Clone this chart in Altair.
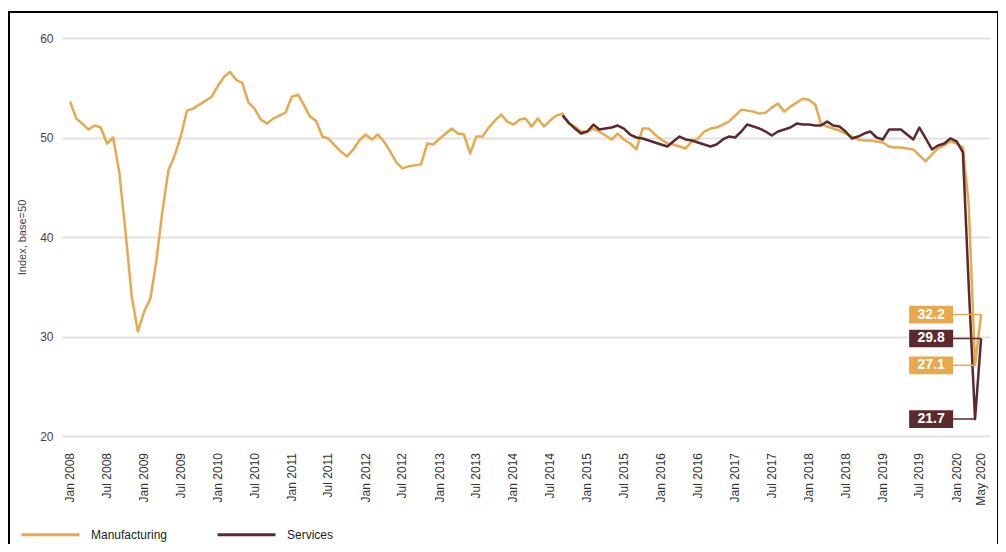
import altair as alt
import pandas as pd

# ---------------- data ----------------
months = pd.date_range("2008-01-01", "2020-05-01", freq="MS").strftime("%Y-%m-%d").tolist()

manufacturing = [
    53.6, 51.9, 51.4, 50.8, 51.2, 51.0, 49.4, 50.0, 46.4, 40.5,
    34.0, 30.5, 32.5, 33.8, 37.4, 42.5, 46.7, 48.2, 50.1, 52.7,
    52.9, 53.3, 53.7, 54.1, 55.2, 56.1, 56.6, 55.8, 55.5, 53.5,
    52.9, 51.8, 51.4, 51.9, 52.2, 52.5, 54.1, 54.3, 53.3, 52.1,
    51.7, 50.1, 49.9, 49.2, 48.6, 48.1, 48.8, 49.7, 50.3, 49.8,
    50.3, 49.6, 48.6, 47.5, 46.9, 47.1, 47.2, 47.3, 49.4, 49.3,
    49.9, 50.4, 50.9, 50.4, 50.3, 48.4, 50.1, 50.1, 51.0, 51.7,
    52.3, 51.6, 51.3, 51.8, 51.9, 51.1, 51.9, 51.1, 51.7, 52.2,
    52.4, 51.4, 51.1, 50.6, 50.6, 50.9, 50.6, 50.2, 49.8, 50.4,
    49.8, 49.4, 48.8, 50.9, 50.9, 50.3, 49.8, 49.4, 49.3, 49.1,
    48.9, 49.6, 49.9, 50.6, 50.9, 51.0, 51.3, 51.6, 52.2, 52.8,
    52.7, 52.6, 52.4, 52.5, 53.0, 53.4, 52.6, 53.1, 53.5, 53.9,
    53.8, 53.3, 51.4, 51.1, 50.9, 50.7, 50.4, 50.1, 49.8, 49.7,
    49.7, 49.6, 49.5, 49.1, 49.0, 49.0, 48.9, 48.8, 48.2, 47.6,
    48.3, 48.9, 49.2, 49.6, 49.4, 49.0, 43.2, 27.1, 32.2,
]

services_months = months[months.index("2014-09-01"):]
services = [
    52.2, 51.5, 50.9, 50.4, 50.6, 51.3, 50.8, 50.9, 51.0, 51.2,
    50.9, 50.3, 50.0, 49.9, 49.7, 49.5, 49.3, 49.1, 49.6, 50.1,
    49.8, 49.7, 49.5, 49.3, 49.1, 49.3, 49.8, 50.1, 50.0, 50.6,
    51.3, 51.1, 50.9, 50.6, 50.2, 50.6, 50.8, 51.0, 51.4, 51.3,
    51.3, 51.2, 51.2, 51.6, 51.2, 51.1, 50.6, 49.9, 50.1, 50.4,
    50.6, 50.0, 49.8, 50.8, 50.8, 50.8, 50.3, 49.8, 51.0, 49.9,
    48.8, 49.2, 49.4, 49.9, 49.6, 48.5, 35.0, 21.7, 29.8,
]

series_names = ["Manufacturing", "Services"]
series_colors = ["#E8A94E", "#5A2A2E"]

tick_dates = [f"{y}-{m:02d}-01" for y in range(2008, 2020) for m in (1, 7)] + ["2020-01-01", "2020-05-01"]
tick_labels = [f"{mn} {y}" for y in range(2008, 2020) for mn in ("Jan", "Jul")] + ["Jan 2020", "May 2020"]

label_values = [32.2, 29.8, 27.1, 21.7]
label_series = ["Manufacturing", "Services", "Manufacturing", "Services"]
label_targets = ["2020-05-01", "2020-05-01", "2020-04-01", "2020-04-01"]
label_anchor = "2019-08-28"

y_ticks = [20, 30, 40, 50, 60]

# ---------------- tables ----------------
df_lines = pd.concat([
    pd.DataFrame({"date": months, "value": manufacturing, "series": "Manufacturing"}),
    pd.DataFrame({"date": services_months, "value": services, "series": "Services"}),
], ignore_index=True)

df_labels = pd.DataFrame({
    "value": label_values,
    "series": label_series,
    "target": label_targets,
    "anchor": [label_anchor] * len(label_values),
})

df_ticks = pd.DataFrame({"date": tick_dates, "label": tick_labels})

FONT = "Liberation Sans"
PLOT_W, PLOT_H = 928, 398

x_scale = alt.Scale(
    type="utc",
    domain=[alt.DateTime(year=2007, month=11, date=22, utc=True),
            alt.DateTime(year=2020, month=6, date=14, utc=True)],
)
y_scale = alt.Scale(domain=[20, 60], nice=False)
color_scale = alt.Scale(domain=series_names, range=series_colors)

x_axis = alt.Axis(labels=False, ticks=False, domain=False, grid=False, title=None)
y_axis = alt.Axis(
    values=y_ticks,
    title="Index, base=50",
    titleFontSize=11,
    titleFontWeight="normal",
    titleColor="#444444",
    titleFont=FONT,
    titlePadding=12,
    labelFontSize=12,
    labelColor="#444444",
    labelPadding=9,
    labelFont=FONT,
    ticks=False,
    domain=False,
    grid=True,
    gridColor="#e2e2e2",
    gridWidth=2,
)

lines = alt.Chart(df_lines).mark_line(strokeWidth=2.5, strokeJoin="round").encode(
    x=alt.X("date:T", scale=x_scale, axis=x_axis),
    y=alt.Y("value:Q", scale=y_scale, axis=y_axis),
    color=alt.Color(
        "series:N",
        scale=color_scale,
        legend=alt.Legend(
            orient="none",
            legendX=-42,
            legendY=466,
            direction="horizontal",
            title=None,
            symbolType="stroke",
            symbolSize=3364,
            symbolStrokeWidth=3,
            labelFontSize=12,
            labelFont=FONT,
            labelColor="#222222",
            labelOffset=10,
            columnPadding=43,
            padding=0,
        ),
    ),
)

tick_text = alt.Chart(df_ticks).mark_text(
    angle=270, align="right", baseline="middle", fontSize=12, font=FONT, color="#333333"
).encode(
    x=alt.X("date:T", scale=x_scale),
    y=alt.value(PLOT_H + 17),
    text="label:N",
)

connectors = alt.Chart(df_labels).mark_rule(strokeWidth=1.5).encode(
    x=alt.X("anchor:T", scale=x_scale),
    x2="target:T",
    y=alt.Y("value:Q", scale=y_scale),
    color=alt.Color("series:N", scale=color_scale, legend=None),
)

boxes = alt.Chart(df_labels).mark_point(
    shape="M-1,-0.4H1V0.4H-1Z", filled=True, size=1936, opacity=1
).encode(
    x=alt.X("anchor:T", scale=x_scale),
    y=alt.Y("value:Q", scale=y_scale),
    color=alt.Color("series:N", scale=color_scale, legend=None),
)

texts = alt.Chart(df_labels).mark_text(
    color="white", fontWeight="bold", fontSize=14, font=FONT, baseline="middle", align="center"
).encode(
    x=alt.X("anchor:T", scale=x_scale),
    y=alt.Y("value:Q", scale=y_scale),
    text=alt.Text("value:Q", format=".1f"),
)

frame = alt.Chart(pd.DataFrame({"f": [0]})).mark_rect(
    fillOpacity=0, stroke="black", strokeWidth=2
).encode(
    x=alt.value(-53), x2=alt.value(936), y=alt.value(-26), y2=alt.value(600)
)

chart = alt.layer(frame, lines, tick_text, connectors, boxes, texts).properties(
    width=PLOT_W,
    height=PLOT_H,
    padding={"left": 54, "top": 30, "right": 8, "bottom": 108},
    autosize=alt.AutoSizeParams(type="none"),
    background="white",
).configure_view(stroke=None)

chart.save("out.html", embed_options={"renderer": "svg", "actions": False})
